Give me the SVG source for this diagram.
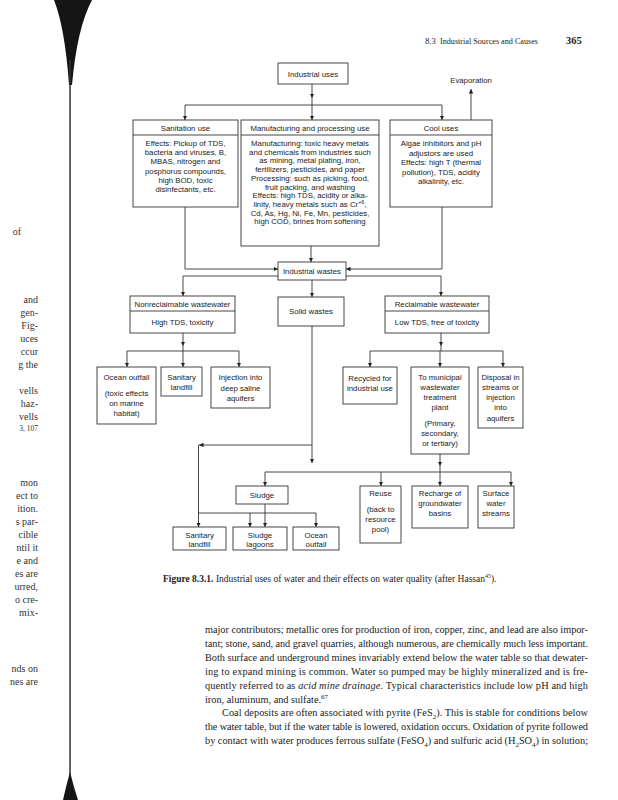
<svg xmlns="http://www.w3.org/2000/svg" width="618" height="800" viewBox="0 0 618 800">
<defs>
<marker id="a" viewBox="0 0 6 6" refX="6" refY="3" markerWidth="4.5" markerHeight="4.5" markerUnits="userSpaceOnUse" orient="auto"><path d="M0,0 L6,3 L0,6 z" fill="#222"/></marker>
<style>
.b{fill:#fff;stroke:#333;stroke-width:0.9}
.l{fill:none;stroke:#333;stroke-width:0.9}
.c{fill:none;stroke:#333;stroke-width:0.9;marker-end:url(#a)}
.t{font-family:"Liberation Sans",Arial,sans-serif;font-size:7.8px;text-anchor:middle;fill:#1a1a1a}
.s{font-family:"Liberation Serif","Times New Roman",serif;font-size:10.3px;fill:#222}
.m{font-family:"Liberation Serif","Times New Roman",serif;font-size:10px;fill:#333;text-anchor:end}
</style>
</defs>
<rect width="618" height="800" fill="#fff"/>
<!-- binding edge -->
<path d="M54,0 L92,0 Q77,28 72,85 L69,85 Q65,28 54,0 Z" fill="#151515"/>
<rect x="69.3" y="60" width="1.5" height="725" fill="#333"/>
<path d="M63,800 L66,787 L70,772 L74,787 L78,800 Z" fill="#151515"/>
<!-- header -->
<text class="s" x="425" y="44" style="font-size:8.7px">8.3</text>
<text class="s" x="440" y="44" style="font-size:8.7px" textLength="98" lengthAdjust="spacingAndGlyphs">Industrial Sources and Causes</text>
<text class="s" x="566" y="44" style="font-size:10.5px;font-weight:bold">365</text>
<!-- left margin fragments -->
<g>
<text class="m" x="21" y="235">of</text>
<text class="m" x="38" y="303">and</text>
<text class="m" x="38" y="316">gen-</text>
<text class="m" x="38" y="329">Fig-</text>
<text class="m" x="38" y="342">uces</text>
<text class="m" x="38" y="355">ccur</text>
<text class="m" x="38" y="368">g the</text>
<text class="m" x="38" y="394">vells</text>
<text class="m" x="38" y="407">haz-</text>
<text class="m" x="38" y="420">vells</text>
<text class="m" x="38" y="431" style="font-size:7.5px">3, 107</text>
<text class="m" x="38" y="486">mon</text>
<text class="m" x="38" y="499">ect to</text>
<text class="m" x="38" y="512">ition.</text>
<text class="m" x="38" y="525">s par-</text>
<text class="m" x="38" y="538">cible</text>
<text class="m" x="38" y="551">ntil it</text>
<text class="m" x="38" y="564">e and</text>
<text class="m" x="38" y="577">es are</text>
<text class="m" x="38" y="590">urred,</text>
<text class="m" x="38" y="603">o cre-</text>
<text class="m" x="38" y="616">mix-</text>
<text class="m" x="38" y="672">nds on</text>
<text class="m" x="38" y="685">nes are</text>
</g>
<!-- connectors -->
<g id="connectors">
<path class="c" d="M312,84 V98"/>
<path class="c" d="M312,98 V120"/>
<path class="l" d="M185,105 H442"/>
<path class="c" d="M185,105 V120"/>
<path class="c" d="M442,105 V120"/>
<path class="c" d="M471,120 V89"/>
<path class="c" d="M185,207 V269 H278"/>
<path class="c" d="M442,207 V269 H346"/>
<path class="c" d="M311,246 V262"/>
<path class="c" d="M278,276 H183 V296"/>
<path class="c" d="M346,276 H441 V296"/>
<path class="c" d="M312,280 V297"/>
<path class="c" d="M183,333 V346"/>
<path class="l" d="M183,346 V351 M127,351 H239"/>
<path class="c" d="M127,351 V367"/>
<path class="c" d="M183,351 V367"/>
<path class="c" d="M239,351 V367"/>
<path class="c" d="M441,333 V346"/>
<path class="l" d="M441,346 V351 M370,351 H503"/>
<path class="c" d="M370,351 V367"/>
<path class="c" d="M440,351 V367"/>
<path class="c" d="M503,351 V367"/>
<path class="c" d="M440,454 V466"/>
<path class="l" d="M440,466 V472 M265,472 H511"/>
<path class="c" d="M265,472 V486"/>
<path class="c" d="M381,472 V486"/>
<path class="c" d="M440,472 V486"/>
<path class="c" d="M511,472 V486"/>
<path class="c" d="M312,326 V463"/>
<path class="c" d="M312,445 H199"/>
<path class="l" d="M198.5,445 V513 H316"/>
<path class="c" d="M198.5,513 V527"/>
<path class="c" d="M250,513 V527"/>
<path class="c" d="M316,513 V527"/>
<path class="c" d="M265,504 V527"/>
</g>
<!-- nodes -->
<g id="industrial-uses"><rect class="b" x="278" y="63" width="70" height="21"/><text class="t" x="313" y="76.5">Industrial uses</text></g>
<text id="evaporation" class="t" x="471" y="83">Evaporation</text>
<g id="sanitation"><rect class="b" x="133" y="120" width="105" height="87"/><path class="l" d="M133,135 H238"/>
<text class="t" x="185.5" y="131">Sanitation use</text>
<text class="t" x="185.5" y="146">Effects: Pickup of TDS,</text>
<text class="t" x="185.5" y="155.2">bacteria and viruses, B,</text>
<text class="t" x="185.5" y="164.4">MBAS, nitrogen and</text>
<text class="t" x="185.5" y="173.6">posphorus compounds,</text>
<text class="t" x="185.5" y="182.8">high BOD, toxic</text>
<text class="t" x="185.5" y="192">disinfectants, etc.</text></g>
<g id="manufacturing"><rect class="b" x="241" y="120" width="138" height="126"/><path class="l" d="M241,135 H379"/>
<text class="t" x="310" y="131">Manufacturing and processing use</text>
<text class="t" x="310" y="146">Manufacturing: toxic heavy metals</text>
<text class="t" x="310" y="154.7">and chemicals from industries such</text>
<text class="t" x="310" y="163.4">as mining, metal plating, iron,</text>
<text class="t" x="310" y="172.1">fertilizers, pesticides, and paper</text>
<text class="t" x="310" y="180.8">Processing: such as picking, food,</text>
<text class="t" x="310" y="189.5">fruit packing, and washing</text>
<text class="t" x="310" y="198.2">Effects: high TDS, acidity or alka-</text>
<text class="t" x="310" y="206.9">linity, heavy metals such as Cr<tspan font-size="5.5" dy="-3">+6</tspan><tspan dy="3">,</tspan></text>
<text class="t" x="310" y="215.6">Cd, As, Hg, Ni, Fe, Mn, pesticides,</text>
<text class="t" x="310" y="224.3">high COD, brines from softening</text></g>
<g id="cool"><rect class="b" x="390" y="120" width="102" height="87"/><path class="l" d="M390,135 H492"/>
<text class="t" x="441" y="131">Cool uses</text>
<text class="t" x="441" y="146">Algae inhibitors and pH</text>
<text class="t" x="441" y="155.5">adjustors are used</text>
<text class="t" x="441" y="165">Effects: high T (thermal</text>
<text class="t" x="441" y="174.5">pollution), TDS, acidity</text>
<text class="t" x="441" y="184">alkalinity, etc.</text></g>
<g id="industrial-wastes"><rect class="b" x="278" y="262" width="68" height="18"/><text class="t" x="312" y="274">Industrial wastes</text></g>
<g id="nonreclaimable"><rect class="b" x="130" y="296" width="105" height="37"/><path class="l" d="M130,311 H235"/>
<text class="t" x="182.5" y="306.5">Nonreclaimable wastewater</text>
<text class="t" x="182.5" y="325">High TDS, toxicity</text></g>
<g id="solid-wastes"><rect class="b" x="278" y="297" width="66" height="29"/><text class="t" x="311" y="314">Solid wastes</text></g>
<g id="reclaimable"><rect class="b" x="385" y="296" width="104" height="37"/><path class="l" d="M385,311 H489"/>
<text class="t" x="437" y="306.5">Reclaimable wastewater</text>
<text class="t" x="437" y="325">Low TDS, free of toxicity</text></g>
<g id="ocean-outfall-1"><rect class="b" x="97" y="367" width="59" height="57"/>
<text class="t" x="126.5" y="380">Ocean outfall</text>
<text class="t" x="126.5" y="396">(toxic effects</text>
<text class="t" x="126.5" y="406">on marine</text>
<text class="t" x="126.5" y="416">habitat)</text></g>
<g id="sanitary-landfill-1"><rect class="b" x="161" y="367" width="41" height="29"/>
<text class="t" x="181.5" y="380">Sanitary</text>
<text class="t" x="181.5" y="390">landfill</text></g>
<g id="injection"><rect class="b" x="211" y="367" width="59" height="41"/>
<text class="t" x="240.5" y="380">Injection into</text>
<text class="t" x="240.5" y="390.5">deep saline</text>
<text class="t" x="240.5" y="401">aquifers</text></g>
<g id="recycled"><rect class="b" x="343" y="367" width="54" height="37"/>
<text class="t" x="370" y="381">Recycled for</text>
<text class="t" x="370" y="391">industrial use</text></g>
<g id="municipal"><rect class="b" x="411" y="367" width="58" height="87"/>
<text class="t" x="440" y="380">To municipal</text>
<text class="t" x="440" y="390">wastewater</text>
<text class="t" x="440" y="400">treatment</text>
<text class="t" x="440" y="410">plant</text>
<text class="t" x="440" y="426">(Primary,</text>
<text class="t" x="440" y="436">secondary,</text>
<text class="t" x="440" y="446">or tertiary)</text></g>
<g id="disposal"><rect class="b" x="478" y="367" width="45" height="61"/>
<text class="t" x="500.5" y="380">Disposal in</text>
<text class="t" x="500.5" y="390">streams or</text>
<text class="t" x="500.5" y="400">injection</text>
<text class="t" x="500.5" y="410">into</text>
<text class="t" x="500.5" y="420.5">aquifers</text></g>
<g id="sludge"><rect class="b" x="236" y="486" width="52" height="18"/><text class="t" x="262" y="498">Sludge</text></g>
<g id="reuse"><rect class="b" x="360" y="486" width="41" height="57"/>
<text class="t" x="380.5" y="496">Reuse</text>
<text class="t" x="380.5" y="512">(back to</text>
<text class="t" x="380.5" y="522">resource</text>
<text class="t" x="380.5" y="532">pool)</text></g>
<g id="recharge"><rect class="b" x="412" y="486" width="56" height="42"/>
<text class="t" x="440" y="496">Recharge of</text>
<text class="t" x="440" y="505.5">groundwater</text>
<text class="t" x="440" y="516">basins</text></g>
<g id="surface"><rect class="b" x="478" y="486" width="36" height="42"/>
<text class="t" x="496" y="496">Surface</text>
<text class="t" x="496" y="506">water</text>
<text class="t" x="496" y="516">streams</text></g>
<g id="sanitary-landfill-2"><rect class="b" x="173" y="527" width="53" height="23"/>
<text class="t" x="199.5" y="537.5">Sanitary</text>
<text class="t" x="199.5" y="547">landfill</text></g>
<g id="sludge-lagoons"><rect class="b" x="233" y="527" width="54" height="23"/>
<text class="t" x="260" y="537.5">Sludge</text>
<text class="t" x="260" y="547">lagoons</text></g>
<g id="ocean-outfall-2"><rect class="b" x="293" y="527" width="46" height="23"/>
<text class="t" x="316" y="537.5">Ocean</text>
<text class="t" x="316" y="547">outfall</text></g>
<!-- caption -->
<text class="s" x="163" y="582" style="font-size:9.5px"><tspan font-weight="bold">Figure 8.3.1.</tspan> Industrial uses of water and their effects on water quality (after Hassan<tspan font-size="6" dy="-4">45</tspan><tspan dy="4">).</tspan></text>
<!-- body text -->
<g>
<text class="s" x="205" y="633" textLength="383" lengthAdjust="spacing">major contributors; metallic ores for production of iron, copper, zinc, and lead are also impor-</text>
<text class="s" x="205" y="646.9" textLength="383" lengthAdjust="spacing">tant; stone, sand, and gravel quarries, although numerous, are chemically much less important.</text>
<text class="s" x="205" y="660.8" textLength="383" lengthAdjust="spacing">Both surface and underground mines invariably extend below the water table so that dewater-</text>
<text class="s" x="205" y="674.7" textLength="383" lengthAdjust="spacing">ing to expand mining is common. Water so pumped may be highly mineralized and is fre-</text>
<text class="s" x="205" y="688.6" textLength="383" lengthAdjust="spacing">quently referred to as <tspan font-style="italic">acid mine drainage.</tspan> Typical characteristics include low pH and high</text>
<text class="s" x="205" y="702.5">iron, aluminum, and sulfate.<tspan font-size="7" dy="-4">67</tspan></text>
<text class="s" x="222" y="716.4" textLength="366" lengthAdjust="spacing">Coal deposits are often associated with pyrite (FeS<tspan font-size="7" dy="2.5">2</tspan><tspan dy="-2.5">). This is stable for conditions below</tspan></text>
<text class="s" x="205" y="730.3" textLength="383" lengthAdjust="spacing">the water table, but if the water table is lowered, oxidation occurs. Oxidation of pyrite followed</text>
<text class="s" x="205" y="744.2" textLength="383" lengthAdjust="spacing">by contact with water produces ferrous sulfate (FeSO<tspan font-size="7" dy="2.5">4</tspan><tspan dy="-2.5">) and sulfuric acid (H</tspan><tspan font-size="7" dy="2.5">2</tspan><tspan dy="-2.5">SO</tspan><tspan font-size="7" dy="2.5">4</tspan><tspan dy="-2.5">) in solution;</tspan></text>
</g>
</svg>
